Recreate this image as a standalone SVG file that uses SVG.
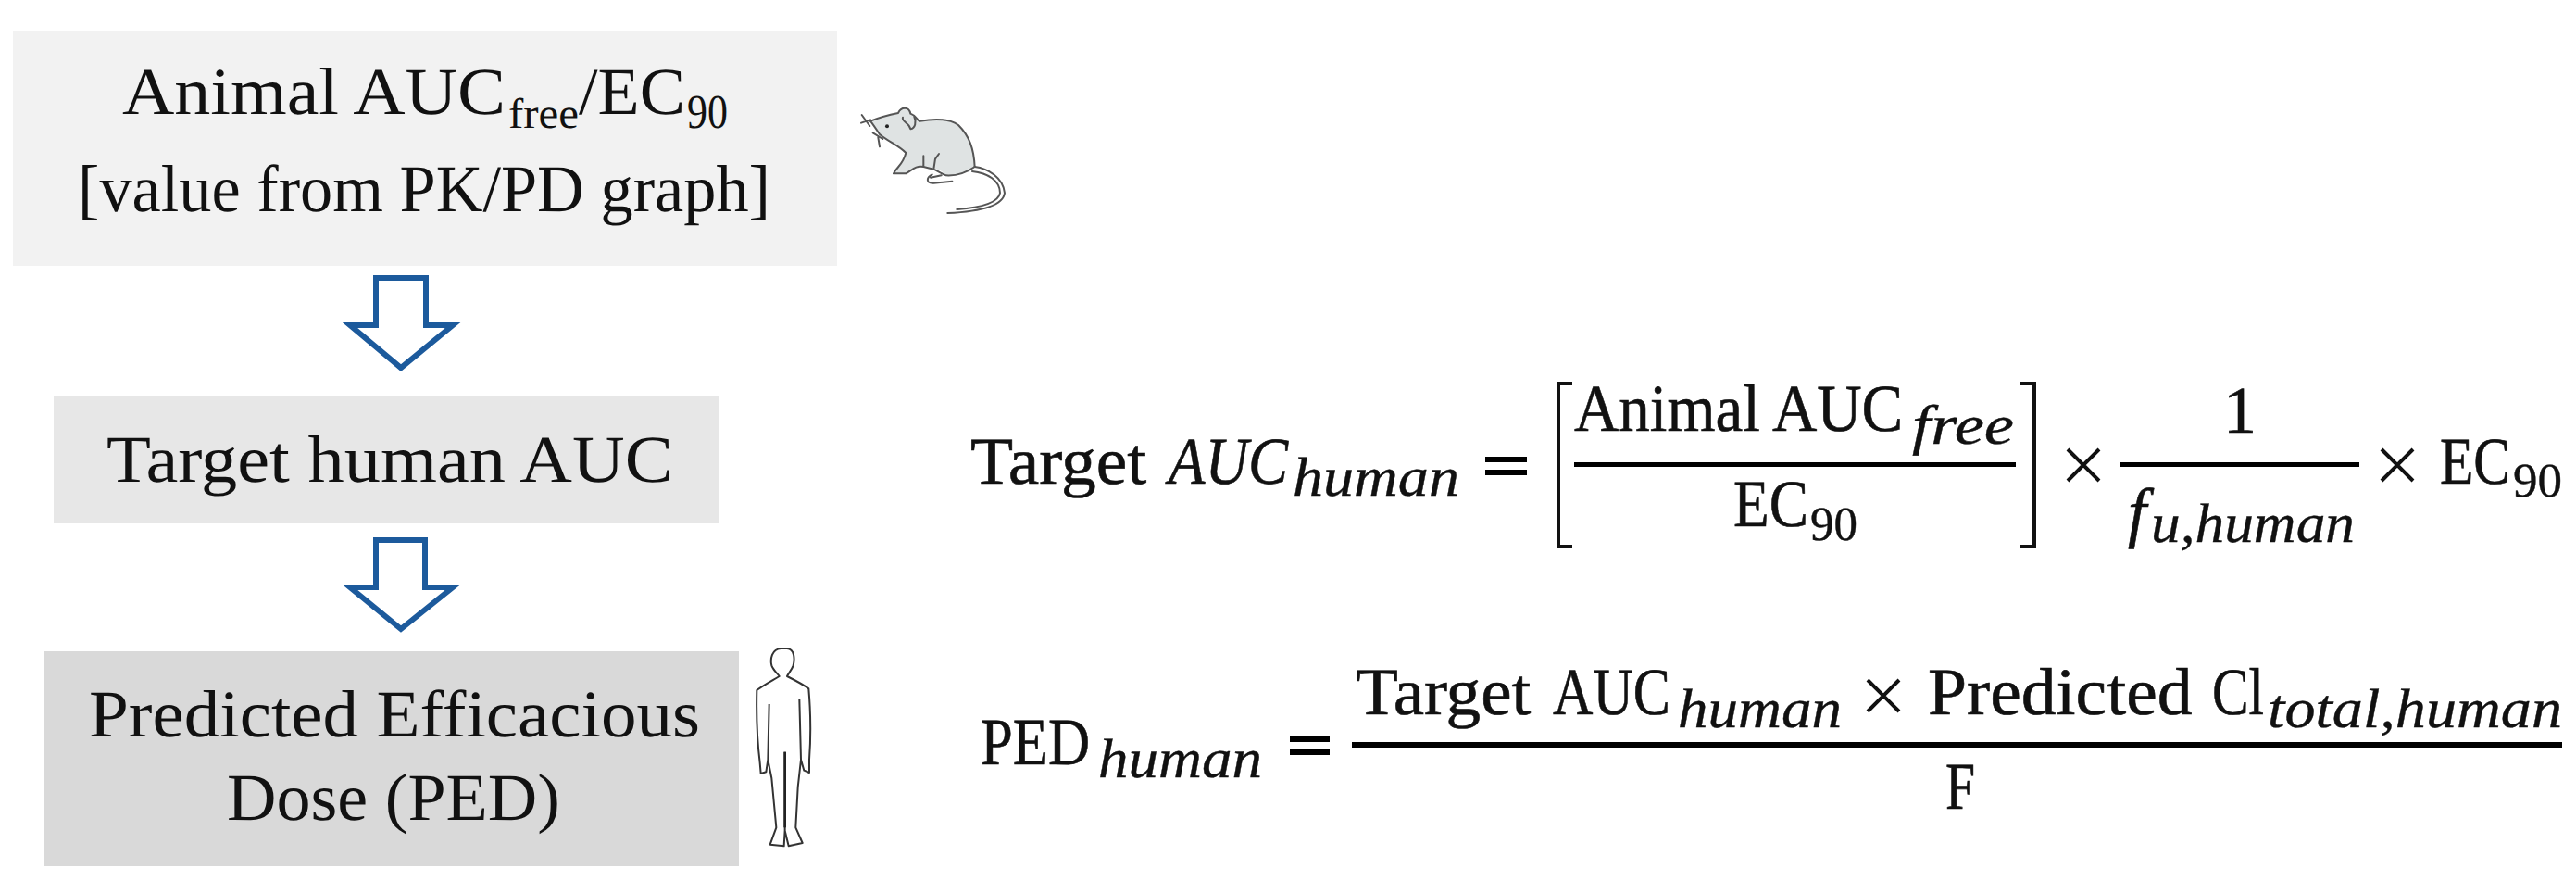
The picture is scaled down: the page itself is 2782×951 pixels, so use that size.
<svg xmlns="http://www.w3.org/2000/svg" width="2782" height="951" viewBox="0 0 2782 951">
<style>
text{font-family:"Liberation Serif","Times New Roman",serif;fill:#111;text-rendering:geometricPrecision}
.l{font-size:72px}
.m{font-size:72px;stroke:#111;stroke-width:.6px}
.s{font-size:52px;stroke:#111;stroke-width:.4px}
.n{font-size:52px}
.v{font-size:60px;font-style:italic;stroke:#111;stroke-width:.4px}
.i{font-style:italic}
.arrow{fill:#fff;stroke:#1c5a9c;stroke-width:6;stroke-linejoin:miter}
.bar{fill:#000}
.br{fill:none;stroke:#111;stroke-width:4}
.x{fill:none;stroke:#111;stroke-width:4}
.sketch{fill:none;stroke:#555;stroke-width:6;stroke-linecap:round;stroke-linejoin:round}
</style>
<rect width="2782" height="951" fill="#fff"/>
<g id="node-animal">
<rect x="14" y="33" width="890" height="254" fill="#f2f2f2"/>
<text class="l" x="132" y="123" textLength="414" lengthAdjust="spacingAndGlyphs">Animal AUC</text>
<text x="549" y="138" font-size="46" textLength="76" lengthAdjust="spacingAndGlyphs">free</text>
<text class="l" x="625" y="123" textLength="115" lengthAdjust="spacingAndGlyphs">/EC</text>
<text class="n" x="742" y="138" textLength="44" lengthAdjust="spacingAndGlyphs">90</text>
<text class="l" x="84" y="228" textLength="748" lengthAdjust="spacingAndGlyphs">[value from PK/PD graph]</text>
</g>
<g id="node-target">
<rect x="58" y="428" width="718" height="137" fill="#e7e7e7"/>
<text class="l" x="115" y="520" textLength="612" lengthAdjust="spacingAndGlyphs">Target human AUC</text>
</g>
<g id="node-ped">
<rect x="48" y="703" width="750" height="232" fill="#d9d9d9"/>
<text class="l" x="96" y="795" textLength="660" lengthAdjust="spacingAndGlyphs">Predicted Efficacious</text>
<text class="l" x="245" y="885" textLength="360" lengthAdjust="spacingAndGlyphs">Dose (PED)</text>
</g>
<g id="connectors">
<path class="arrow" d="M406 300H460V351H489L433 397L378 351H406Z"/>
<path class="arrow" d="M406 583H459V634H489L433 679L378 634H406Z"/>
</g>
<g id="mouse" transform="translate(910 100) scale(.3333)">
<path d="M90 92C120 80 150 72 180 66C190 45 215 45 220 68C240 75 240 90 250 92C290 85 340 80 375 105C410 140 425 180 428 240C400 260 370 270 335 268C320 250 305 245 295 248C280 250 270 245 262 240C240 235 225 250 205 262L165 262C175 240 195 235 205 195C180 170 150 160 120 135C110 120 100 105 90 92Z" fill="#dfe3e3" stroke="none"/>
<path class="sketch" d="M90 92C120 80 150 72 180 66C190 45 215 45 220 68C240 75 240 90 250 92C290 85 340 80 375 105C410 140 425 180 428 240"/>
<path class="sketch" d="M90 92C100 105 110 120 120 135C150 160 180 170 205 195C195 235 175 240 165 262L205 262C225 250 240 235 262 240M262 205L262 240L295 248L300 215L312 198M295 248C310 255 320 262 335 268C370 270 400 260 428 240"/>
<path class="sketch" d="M290 265C270 275 270 295 295 293L355 287M320 268L285 275"/>
<path class="sketch" d="M195 80C190 95 215 95 220 118C235 115 240 95 232 78"/>
<path class="sketch" d="M428 240C470 245 520 275 525 325C520 365 450 385 340 390M420 255C470 260 510 285 510 325C505 355 450 372 370 378"/>
<path class="sketch" d="M62 72L88 108M60 98L90 88M98 130L130 150M115 145L120 175"/>
<circle cx="144" cy="109" r="6" fill="#222"/>
</g>
<g id="human" transform="translate(800 680) scale(.3333)">
<path d="M130 60H150C175 62 175 95 170 115C165 130 155 140 150 150C180 165 200 175 220 190C226 260 228 340 222 420L222 462L205 455L195 420L190 225M130 60C100 62 95 95 100 115C105 130 120 142 125 150C100 165 75 178 52 195C50 280 52 350 62 430L65 465L82 460L88 420L92 240M88 420L100 480L115 640L95 695L140 700L143 650V395M195 420L185 510L178 640L200 690L155 700L143 650" fill="#fff" stroke="#333" stroke-width="6" stroke-linejoin="round"/>
<path d="M143 395V640" stroke="#222" stroke-width="8" fill="none"/>
</g>
<g id="formula-target">
<text class="m" transform="translate(1048 522) scale(1.048 1)">Target</text>
<text class="m i" transform="translate(1262 522) scale(.896 1)">AUC</text>
<text class="v" x="1396" y="535" textLength="180" lengthAdjust="spacingAndGlyphs">human</text>
<rect class="bar" x="1604" y="493" width="45" height="6"/>
<rect class="bar" x="1604" y="507" width="45" height="6"/>
<path class="br" d="M1698 414H1683V590H1698M2182 414H2197V590H2182"/>
<text class="m" transform="translate(1700 465) scale(.93 1)">Animal AUC</text>
<text class="v" x="2065" y="479" textLength="110" lengthAdjust="spacingAndGlyphs">free</text>
<rect class="bar" x="1700" y="499" width="477" height="5"/>
<text class="m" transform="translate(1872 568) scale(.88 1)">EC</text>
<text class="s" x="1955" y="583" textLength="51" lengthAdjust="spacingAndGlyphs">90</text>
<path class="x" d="M2233 485L2267 519M2267 485L2233 519"/>
<text class="m" x="2401" y="467">1</text>
<rect class="bar" x="2290" y="499" width="258" height="5"/>
<text class="m i" x="2298" y="577">f</text>
<text class="v" x="2323" y="585" textLength="220" lengthAdjust="spacingAndGlyphs">u,human</text>
<path class="x" d="M2572 485L2606 519M2606 485L2572 519"/>
<text class="m" transform="translate(2635 522) scale(.826 1)">EC</text>
<text class="s" x="2714" y="536" textLength="53" lengthAdjust="spacingAndGlyphs">90</text>
</g>
<g id="formula-ped">
<text class="m" transform="translate(1059 825) scale(.868 1)">PED</text>
<text class="v" x="1186" y="839" textLength="177" lengthAdjust="spacingAndGlyphs">human</text>
<rect class="bar" x="1393" y="795" width="43" height="6"/>
<rect class="bar" x="1393" y="809" width="43" height="6"/>
<text class="m" transform="translate(1464 771) scale(1.043 1)">Target</text>
<text class="m" transform="translate(1677 771) scale(.835 1)">AUC</text>
<text class="v" x="1812" y="785" textLength="177" lengthAdjust="spacingAndGlyphs">human</text>
<path class="x" d="M2017 734L2051 768M2051 734L2017 768"/>
<text class="m" transform="translate(2082 771) scale(1.05 1)">Predicted</text>
<text class="m" transform="translate(2389 771) scale(.823 1)">Cl</text>
<text class="v" x="2449" y="785" textLength="318" lengthAdjust="spacingAndGlyphs">total,human</text>
<rect class="bar" x="1460" y="801" width="1307" height="6"/>
<text class="m" transform="translate(2101 873) scale(.8 1)">F</text>
</g>
</svg>
